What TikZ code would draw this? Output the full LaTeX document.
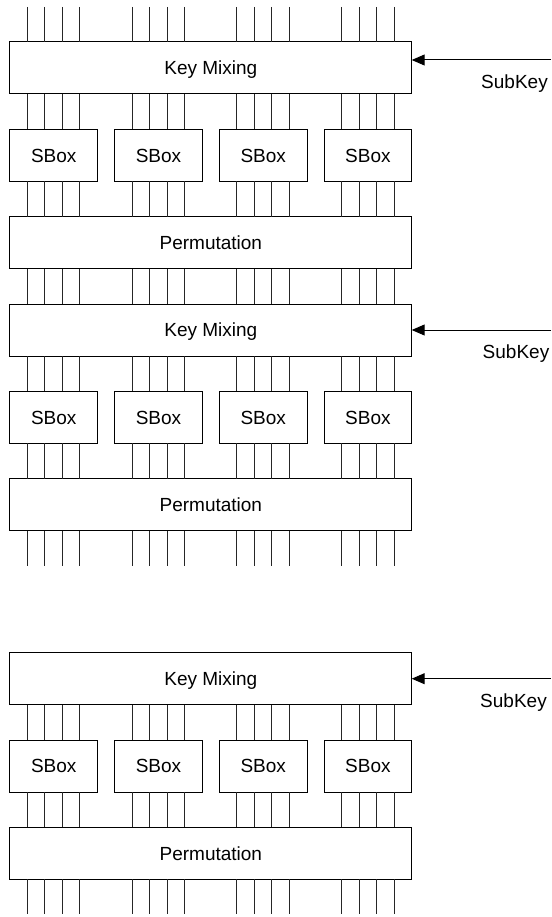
\documentclass[tikz,border=0pt]{standalone}
\usepackage{fontspec}
\setmainfont{Liberation Sans}
\usetikzlibrary{arrows.meta}
\begin{document}
\begin{tikzpicture}[x=0.75pt,y=-0.75pt,
  blk/.style={draw=black, line width=0.75pt, fill=white, inner sep=0pt, outer sep=0pt,
    minimum height=39pt, text height=10.2pt, text depth=0pt,
    font=\fontsize{14.25pt}{17pt}\selectfont},
  wide/.style={blk, minimum width=301.3pt},
  sbox/.style={blk, minimum width=65.8pt},
  wire/.style={draw=black!85, line width=0.75pt},
  keyarrow/.style={draw=black, line width=0.75pt, -{Triangle[length=9.75pt,width=8.25pt]}},
  lbl/.style={anchor=base, inner sep=0pt, font=\fontsize{14.25pt}{17pt}\selectfont}
]
\useasboundingbox (0,0) rectangle (551,917);

% block A
\node[wide] (km1) at (210.85,68) {Key Mixing};
\foreach \g in {0,...,3} \node[sbox] (sb1\g) at ({53.75+104.73*\g},155.33) {SBox};
\node[wide] (pm1) at (210.85,242.67) {Permutation};
\node[wide] (km2) at (210.85,330) {Key Mixing};
\foreach \g in {0,...,3} \node[sbox] (sb2\g) at ({53.75+104.73*\g},417.33) {SBox};
\node[wide] (pm2) at (210.85,504.67) {Permutation};

% block B
\node[wide] (km3) at (210.85,678.7) {Key Mixing};
\foreach \g in {0,...,3} \node[sbox] (sb3\g) at ({53.75+104.73*\g},766) {SBox};
\node[wide] (pm3) at (210.85,853.3) {Permutation};

% wires
\foreach \g in {0,...,3}{
  \foreach \j in {0,...,3}{
    \pgfmathsetmacro\wx{27.5+104.73*\g+17.47*\j}
    \coordinate (ta\g\j) at (\wx,7);
    \coordinate (ba\g\j) at (\wx,565.7);
    \coordinate (bb\g\j) at (\wx,914.3);
    \draw[wire] (ta\g\j) -- (km1.north -| ta\g\j);
    \draw[wire] (km1.south -| ta\g\j) -- (sb1\g.north -| ta\g\j);
    \draw[wire] (sb1\g.south -| ta\g\j) -- (pm1.north -| ta\g\j);
    \draw[wire] (pm1.south -| ta\g\j) -- (km2.north -| ta\g\j);
    \draw[wire] (km2.south -| ta\g\j) -- (sb2\g.north -| ta\g\j);
    \draw[wire] (sb2\g.south -| ta\g\j) -- (pm2.north -| ta\g\j);
    \draw[wire] (pm2.south -| ta\g\j) -- (ba\g\j);
    \draw[wire] (km3.south -| ta\g\j) -- (sb3\g.north -| ta\g\j);
    \draw[wire] (sb3\g.south -| ta\g\j) -- (pm3.north -| ta\g\j);
    \draw[wire] (pm3.south -| ta\g\j) -- (bb\g\j);
  }
}

% subkey arrows
\coordinate (k1) at (551,60);
\coordinate (k2) at (551,330);
\coordinate (k3) at (551,678.7);
\draw[keyarrow] (k1) -- (km1.east |- k1);
\draw[keyarrow] (k2) -- (km2.east |- k2);
\draw[keyarrow] (k3) -- (km3.east |- k3);
\node[lbl] (s1) at (514.5,89) {SubKey};
\node[lbl] (s2) at (516,358) {SubKey};
\node[lbl] (s3) at (513.5,707) {SubKey};
\end{tikzpicture}
\end{document}
